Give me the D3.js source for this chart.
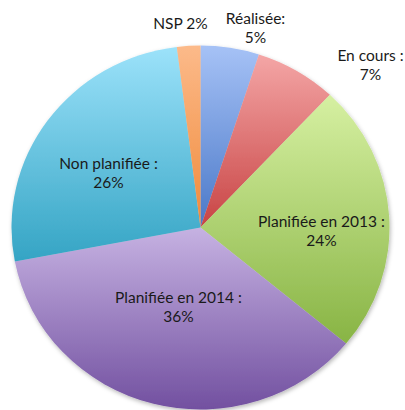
<!DOCTYPE html>
<html><head><meta charset="utf-8">
<script src="https://cdn.jsdelivr.net/npm/d3@7"></script>
<style>html,body{margin:0;padding:0;background:#fff;}svg{display:block;}</style>
</head><body>
<script>
const categories = ["Réalisée", "En cours", "Planifiée en 2013", "Planifiée en 2014", "Non planifiée", "NSP"];
const values = [5, 7, 24, 36, 26, 2];
const labelLines = [["Réalisée:", "5%"], ["En cours :", "7%"], ["Planifiée en 2013 :", "24%"], ["Planifiée en 2014 :", "36%"], ["Non planifiée :", "26%"], ["NSP 2%"]];
const colorsTop = ["#a6c2f6", "#f4a6a6", "#d6f0a2", "#c6b2e2", "#9ce2fa", "#fcba8a"];
const colorsBottom = ["#4a78c8", "#c84444", "#88b444", "#7250a0", "#34a4c4", "#f08a3a"];

const W = 405, H = 410;
const cx = 200.5, cy = 227.5, r = 182, sx = 189 / 182;
// label anchor (first baseline) offsets from pie centre (layout)
const labelOffsets = [[55, -204], [170, -167], [121, -1], [-22, 75], [-92, -59], [-20, -199]];
const lineGap = 19;

const svg = d3.select("body").append("svg").attr("width", W).attr("height", H);
const defs = svg.append("defs");
const f = defs.append("filter").attr("id", "sh").attr("x", "-10%").attr("y", "-10%").attr("width", "120%").attr("height", "120%");
f.append("feDropShadow").attr("dx", 1).attr("dy", 2).attr("stdDeviation", 2).attr("flood-color", "#000").attr("flood-opacity", 0.28);

categories.forEach((c, i) => {
  const g = defs.append("linearGradient").attr("id", "g" + i).attr("x1", 0).attr("y1", 0).attr("x2", 0).attr("y2", 1);
  g.append("stop").attr("offset", "0%").attr("stop-color", colorsTop[i]);
  g.append("stop").attr("offset", "100%").attr("stop-color", colorsBottom[i]);
});

const pie = d3.pie().sort(null).value(d => d)(values);
const arc = d3.arc().innerRadius(0).outerRadius(r);

const pg = svg.append("g").attr("transform", `translate(${cx},${cy}) scale(${sx},1)`).attr("filter", "url(#sh)");
pg.selectAll("path").data(pie).join("path")
  .attr("d", arc)
  .attr("fill", (d, i) => `url(#g${i})`);

const lg = svg.append("g").attr("transform", `translate(${cx},${cy})`)
  .attr("font-family", "Lato, 'Open Sans', sans-serif").attr("font-size", 15.5).attr("fill", "#1a1a1a").attr("text-anchor", "middle");
labelLines.forEach((lines, i) => {
  const [dx, dy] = labelOffsets[i];
  const t = lg.append("text").attr("x", dx).attr("y", dy);
  lines.forEach((s, j) => {
    t.append("tspan").attr("x", dx).attr("dy", j === 0 ? 0 : lineGap).text(s);
  });
});
</script>
</body></html>
